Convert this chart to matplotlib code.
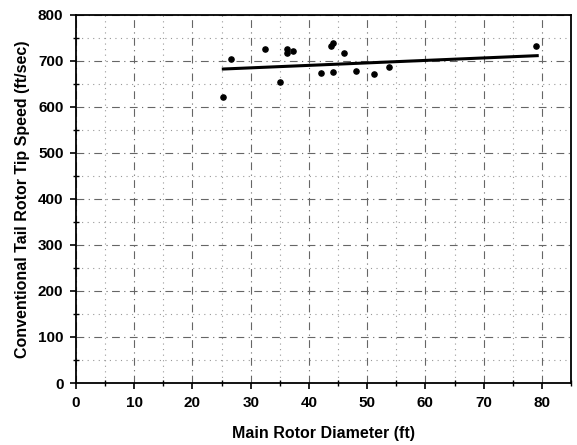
import matplotlib
matplotlib.use("Agg")
import matplotlib.pyplot as plt
from matplotlib.ticker import MultipleLocator

diameter = [25.3, 26.6, 32.5, 35.1, 36.2, 36.3, 37.2, 42.1, 43.8, 44.1, 44.1, 46.0, 48.0, 51.2, 53.8, 79.0]
tip_speed = [622, 704, 725, 653, 717, 725, 722, 673, 733, 739, 675, 717, 678, 671, 686, 733]
fit_x = [25.3, 79.2]
fit_y = [682, 711]

plt.rcParams['font.family'] = ['Liberation Sans', 'DejaVu Sans']
fig = plt.figure(figsize=(5.77, 4.45), dpi=100)
ax = fig.add_axes([0.1317, 0.1393, 0.8579, 0.8277])

ax.set_xlim(0, 85)
ax.set_ylim(0, 800)
ax.xaxis.set_major_locator(MultipleLocator(10))
ax.xaxis.set_minor_locator(MultipleLocator(5))
ax.yaxis.set_major_locator(MultipleLocator(100))
ax.yaxis.set_minor_locator(MultipleLocator(50))

ax.grid(which='major', color='#666666', linestyle=(0, (7, 4, 1, 4)), linewidth=0.8)
ax.grid(which='minor', color='#999999', linestyle=(0, (1, 4)), linewidth=0.8)
ax.set_axisbelow(True)

ax.plot(fit_x, fit_y, color='black', linewidth=2.2, zorder=3)
ax.scatter(diameter, tip_speed, s=14, color='black', zorder=4)

for s in ax.spines.values():
    s.set_linewidth(1.3)
ax.tick_params(which='major', direction='out', length=4, width=1.2, labelsize=11, pad=5)
ax.tick_params(which='minor', direction='inout', length=4, width=1.0)
for lbl in ax.get_xticklabels() + ax.get_yticklabels():
    lbl.set_fontweight('bold')

ax.set_xlabel('Main Rotor Diameter (ft)', fontsize=11.5, fontweight='bold', labelpad=12)
ax.set_ylabel('Conventional Tail Rotor Tip Speed (ft/sec)', fontsize=11.5, fontweight='bold', labelpad=6)

fig.savefig('out.png', dpi=100)
